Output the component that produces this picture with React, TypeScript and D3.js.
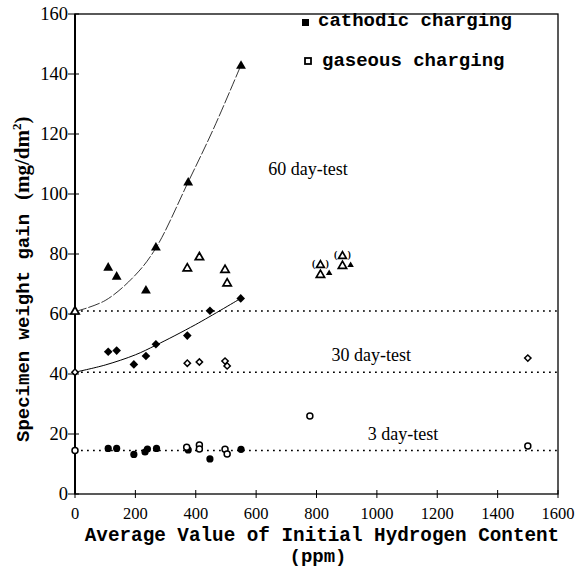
import React from "react";
import * as d3 from "d3";

// ---- data (x = ppm, y = mg/dm2) ----
const xTicks = [0, 200, 400, 600, 800, 1000, 1200, 1400, 1600];
const yTicks = [0, 20, 40, 60, 80, 100, 120, 140, 160];

const tri60Cathodic: [number, number][] = [[110, 75.4], [138, 72.4], [235, 67.8], [268, 82.1], [375, 103.8], [550, 142.7]];
const tri60Gaseous: [number, number][] = [[0, 60.8], [372, 75.2], [412, 78.9], [497, 74.7], [504, 70.2], [813, 73], [886, 76]];
const tri60GaseousParen: [number, number][] = [[813, 76.3], [886, 79.3]];
const tri60CathodicSmall: [number, number][] = [[842, 73.6], [913, 76.3]];

const dia30Cathodic: [number, number][] = [[110, 47.4], [138, 47.8], [195, 43.2], [235, 46], [268, 49.9], [372, 52.8], [447, 61.1], [549, 65.2]];
const dia30Gaseous: [number, number][] = [[0, 40.6], [372, 43.6], [412, 44], [497, 44.3], [504, 42.7], [1500, 45.3]];

const circ3Cathodic: [number, number][] = [[110, 15.2], [138, 15.2], [195, 13.2], [232, 14.0], [240, 15.0], [270, 15.2], [375, 14.7], [447, 11.7], [550, 14.9]];
const circ3Gaseous: [number, number][] = [[0, 14.5], [370, 15.6], [412, 16.3], [412, 15], [497, 14.9], [504, 13.3], [778, 26], [1500, 16]];

const fit60: [number, number][] = [[0, 60.8], [100, 64.5], [200, 73], [268, 82], [375, 104], [460, 122], [550, 143]];
const fit30: [number, number][] = [[0, 40.6], [100, 43], [200, 46.4], [268, 49.6], [400, 56.5], [549, 65.2]];

const refLevels = [61, 40.6, 14.5];

const testLabels = [
  { text: "60 day-test", x: 640, y: 106.5 },
  { text: "30 day-test", x: 850, y: 44.5 },
  { text: "3 day-test", x: 970, y: 18 },
];

export default function App() {
  const W = 578, H = 568;
  const x = d3.scaleLinear().domain([0, 1600]).range([75, 558]);
  const y = d3.scaleLinear().domain([0, 160]).range([494, 14]);
  const line = d3.line<[number, number]>().x(d => x(d[0])).y(d => y(d[1])).curve(d3.curveCatmullRom.alpha(0.5));

  const triPath = (s: number) => d3.symbol(d3.symbolTriangle, s)()!;
  const sqPath = (s: number) => d3.symbol(d3.symbolSquare, s)()!;
  const serif = "'Liberation Serif', 'Times New Roman', serif";
  const mono = "'Liberation Mono', 'Courier New', monospace";

  return (
    <svg width={W} height={H} style={{ position: "absolute", left: 0, top: 0, background: "#fff" }}>
      <rect x={0} y={0} width={W} height={H} fill="#fff" />
      {/* frame */}
      <rect x={x(0)} y={y(160)} width={x(1600) - x(0)} height={y(0) - y(160)} fill="none" stroke="#000" strokeWidth={1.3} />
      <line x1={x(0)} x2={x(0)} y1={y(0)} y2={y(160)} stroke="#000" strokeWidth={2} />
      {/* x ticks */}
      {xTicks.map(t => (
        <g key={"xt" + t}>
          <line x1={x(t)} x2={x(t)} y1={y(0) - 4} y2={y(0) + 4} stroke="#000" strokeWidth={1} />
          <text x={x(t)} y={519} textAnchor="middle" fontFamily={serif} fontSize={16.5} fill="#000">{t}</text>
        </g>
      ))}
      {/* y ticks */}
      {yTicks.map(t => (
        <g key={"yt" + t}>
          <line x1={x(0) - 7} x2={x(0) + 4} y1={y(t)} y2={y(t)} stroke="#000" strokeWidth={1} />
          <text x={68} y={y(t) + 6} textAnchor="end" fontFamily={serif} fontSize={18.5} fill="#000">{t}</text>
        </g>
      ))}
      {/* dotted reference levels */}
      {refLevels.map((v, i) => (
        <line key={"rl" + i} x1={x(0)} x2={x(1600)} y1={y(v)} y2={y(v)} stroke="#000" strokeWidth={1.6} strokeDasharray="1.8,4.2" />
      ))}
      {/* fit curves */}
      <path d={line(fit60)!} fill="none" stroke="#000" strokeWidth={0.8} strokeDasharray="12,2" />
      <path d={line(fit30)!} fill="none" stroke="#000" strokeWidth={1} />

      {/* 60 day triangles */}
      {tri60Cathodic.map((d, i) => (
        <path key={"tc" + i} d={triPath(42)} transform={`translate(${x(d[0])},${y(d[1])})`} fill="#000" />
      ))}
      {tri60Gaseous.map((d, i) => (
        <path key={"tg" + i} d={triPath(30)} transform={`translate(${x(d[0])},${y(d[1])})`} fill="#fff" stroke="#000" strokeWidth={1.7} />
      ))}
      {tri60GaseousParen.map((d, i) => (
        <g key={"tp" + i} transform={`translate(${x(d[0])},${y(d[1])})`}>
          <path d={triPath(26)} fill="#fff" stroke="#000" strokeWidth={1.7} />
          <text x={-5} y={2} textAnchor="end" fontFamily={serif} fontWeight="bold" fontSize={10}>(</text>
          <text x={5} y={2} textAnchor="start" fontFamily={serif} fontWeight="bold" fontSize={10}>)</text>
        </g>
      ))}
      {tri60CathodicSmall.map((d, i) => (
        <path key={"ts" + i} d={triPath(18)} transform={`translate(${x(d[0])},${y(d[1])})`} fill="#000" />
      ))}

      {/* 30 day diamonds */}
      {dia30Cathodic.map((d, i) => (
        <path key={"dc" + i} d={sqPath(37)} transform={`translate(${x(d[0])},${y(d[1])}) rotate(45)`} fill="#000" />
      ))}
      {dia30Gaseous.map((d, i) => (
        <path key={"dg" + i} d={sqPath(20)} transform={`translate(${x(d[0])},${y(d[1])}) rotate(45)`} fill="#fff" stroke="#000" strokeWidth={1.5} />
      ))}

      {/* 3 day circles */}
      {circ3Cathodic.map((d, i) => (
        <circle key={"cc" + i} cx={x(d[0])} cy={y(d[1])} r={3.6} fill="#000" />
      ))}
      {circ3Gaseous.map((d, i) => (
        <circle key={"cg" + i} cx={x(d[0])} cy={y(d[1])} r={3} fill="#fff" stroke="#000" strokeWidth={1.5} />
      ))}

      {/* test labels */}
      {testLabels.map((l, i) => (
        <text key={"tl" + i} x={x(l.x)} y={y(l.y)} fontFamily={serif} fontSize={18} fill="#000">{l.text}</text>
      ))}

      {/* legend */}
      <rect x={302} y={19} width={7} height={7} fill="#000" />
      <text x={318} y={26} fontFamily={mono} fontWeight="bold" fontSize={19} fill="#000">cathodic charging</text>
      <rect x={305} y={58} width={6} height={6} fill="#fff" stroke="#000" strokeWidth={1.8} />
      <text x={322} y={66} fontFamily={mono} fontWeight="bold" fontSize={19} fill="#000">gaseous charging</text>

      {/* axis titles */}
      <text x={322} y={541} textAnchor="middle" fontFamily={mono} fontWeight="bold" fontSize={19.3} fill="#000">Average Value of Initial Hydrogen Content</text>
      <text x={318} y={562} textAnchor="middle" fontFamily={mono} fontWeight="bold" fontSize={19} fill="#000">(ppm)</text>
      <text transform="translate(29,442) rotate(-90)" textAnchor="start" fontFamily={mono} fontWeight="bold" fontSize={19} fill="#000">
        Specimen weight gain
        <tspan fontFamily={serif} fontSize={21} dx={14}>(mg/dm</tspan>
        <tspan fontFamily={serif} fontSize={13} dy={-8}>2</tspan>
        <tspan fontFamily={serif} fontSize={21} dy={8}>)</tspan>
      </text>
    </svg>
  );
}
